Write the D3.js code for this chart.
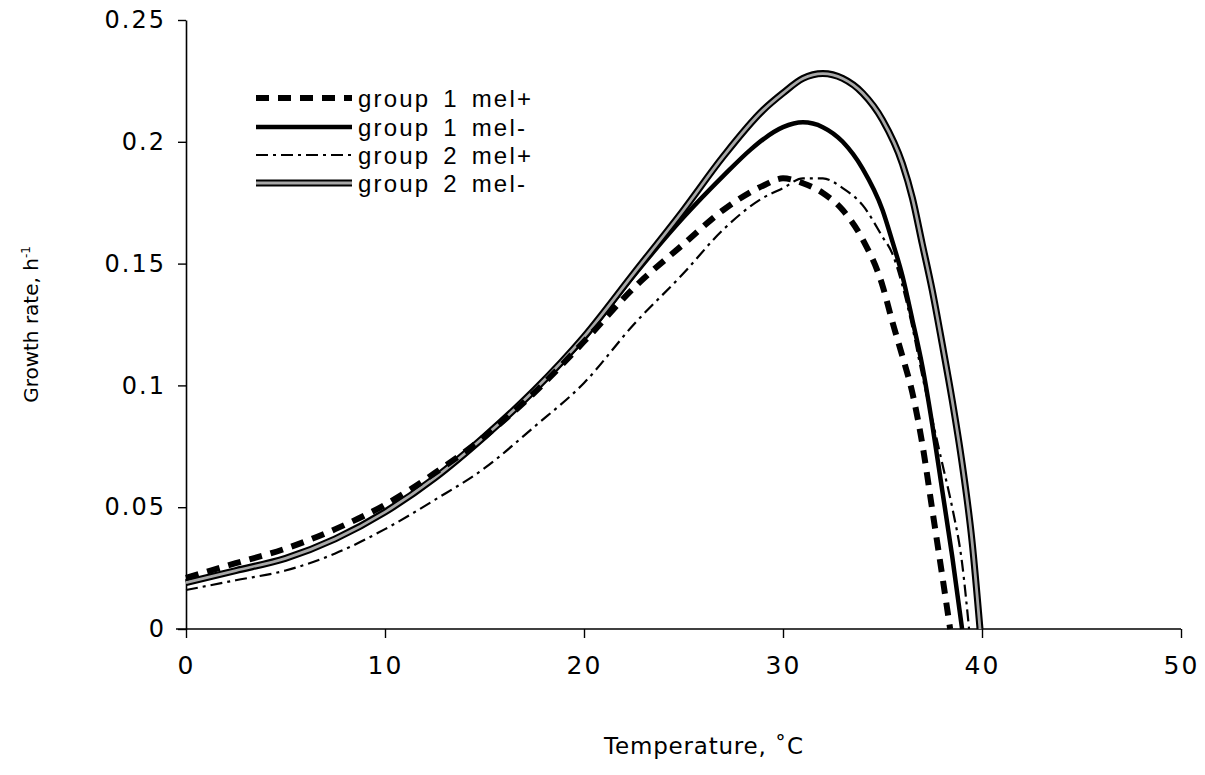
<!DOCTYPE html>
<html>
<head>
<meta charset="utf-8">
<script src="https://cdn.jsdelivr.net/npm/d3@7"></script>
<style>
  html, body { margin: 0; padding: 0; background: #fff; }
  svg { display: block; }
</style>
</head>
<body>
<svg id="chart" width="1205" height="775"></svg>
<script>
// ---- data ----
const seriesNames = ["group 1 mel+", "group 1 mel-", "group 2 mel+", "group 2 mel-"];

const g1PlusT = [0, 2.5, 5, 7.5, 10, 12.5, 15, 17.5, 20, 22.5, 25, 27, 29, 30, 31, 32, 33, 34, 35, 35.5, 36, 36.5, 37, 37.5, 38, 38.4];
const g1PlusV = [0.021, 0.027, 0.033, 0.041, 0.051, 0.064, 0.079, 0.097, 0.118, 0.140, 0.158, 0.172, 0.182, 0.185, 0.183, 0.179, 0.172, 0.160, 0.141, 0.126, 0.112, 0.097, 0.076, 0.049, 0.022, 0];

const g1MinusT = [0, 2.5, 5, 7.5, 10, 12.5, 15, 17.5, 20, 22.5, 25, 27, 28.4, 29, 30, 31, 32, 33, 34, 35, 35.5, 36, 36.5, 37, 37.5, 38, 38.5, 39];
const g1MinusV = [0.019, 0.024, 0.029, 0.037, 0.048, 0.062, 0.079, 0.098, 0.119, 0.145, 0.169, 0.186, 0.197, 0.201, 0.206, 0.208, 0.206, 0.200, 0.189, 0.172, 0.159, 0.145, 0.127, 0.108, 0.084, 0.057, 0.030, 0];

const g2PlusT = [0, 2.5, 5, 7.5, 10, 12.5, 15, 17.5, 20, 22.5, 25, 27, 29, 30, 31, 32, 33, 34, 35, 35.5, 36, 36.5, 37, 37.5, 38, 38.5, 39, 39.35];
const g2PlusV = [0.016, 0.020, 0.024, 0.031, 0.041, 0.053, 0.066, 0.083, 0.101, 0.125, 0.146, 0.164, 0.177, 0.181, 0.185, 0.185, 0.181, 0.174, 0.161, 0.154, 0.141, 0.124, 0.104, 0.086, 0.068, 0.050, 0.027, 0];

const g2MinusT = [0, 2.5, 5, 7.5, 10, 12.5, 15, 17.5, 20, 22.5, 25, 27, 29, 30, 31, 32, 33, 34, 35, 36, 36.5, 37, 37.5, 38, 38.5, 39, 39.5, 39.9];
const g2MinusV = [0.019, 0.024, 0.029, 0.037, 0.048, 0.062, 0.079, 0.098, 0.120, 0.146, 0.172, 0.194, 0.213, 0.220, 0.226, 0.228, 0.226, 0.220, 0.209, 0.191, 0.177, 0.158, 0.139, 0.117, 0.094, 0.068, 0.036, 0];

const xTicks = [0, 10, 20, 30, 40, 50];
const yTicks = [0, 0.05, 0.1, 0.15, 0.2, 0.25];
const yTickLabels = ["0", "0.05", "0.1", "0.15", "0.2", "0.25"];

// ---- layout ----
const svg = d3.select("#chart");
const mLeft = 186, mRight = 1181, mTop = 20, mBottom = 629;

const x = d3.scaleLinear().domain([0, 50]).range([mLeft, mRight]);
const y = d3.scaleLinear().domain([0, 0.25]).range([mBottom, mTop]);

const zip = (t, v) => t.map((d, i) => [d, v[i]]);
const line = d3.line().x(d => x(d[0])).y(d => y(d[1])).curve(d3.curveMonotoneX);

const styles = {
  "group 1 mel+": [{stroke: "#000", width: 6, dash: "13,9"}],
  "group 1 mel-": [{stroke: "#000", width: 4.5, dash: null}],
  "group 2 mel+": [{stroke: "#000", width: 2.2, dash: "12,5,3,5"}],
  "group 2 mel-": [{stroke: "#000", width: 7, dash: null}, {stroke: "#a8a8a8", width: 2.8, dash: null}]
};

const seriesData = {
  "group 1 mel+": zip(g1PlusT, g1PlusV),
  "group 1 mel-": zip(g1MinusT, g1MinusV),
  "group 2 mel+": zip(g2PlusT, g2PlusV),
  "group 2 mel-": zip(g2MinusT, g2MinusV)
};

// ---- axes ----
const fontTick = "'DejaVu Sans', sans-serif";

const xAxis = d3.axisBottom(x).tickValues(xTicks).tickSize(9).tickPadding(18).tickSizeOuter(0);
const gx = svg.append("g").attr("transform", `translate(0,${mBottom})`).call(xAxis);
gx.select(".domain").attr("stroke", "#000").attr("stroke-width", 1.6).attr("d", `M${mLeft - 10},0H${mRight}`);
gx.selectAll(".tick line").attr("stroke", "#000").attr("stroke-width", 1.4);
gx.selectAll(".tick text").attr("fill", "#000").style("font-family", fontTick).style("font-size", "25px").style("letter-spacing", "2px");

const yAxis = d3.axisLeft(y).tickValues(yTicks).tickFormat((d, i) => yTickLabels[i]).tickSize(8).tickPadding(12).tickSizeOuter(0);
const gy = svg.append("g").attr("transform", `translate(${mLeft},0)`).call(yAxis);
gy.select(".domain").attr("stroke", "#000").attr("stroke-width", 1.6);
gy.selectAll(".tick line").attr("stroke", "#000").attr("stroke-width", 1.4);
gy.selectAll(".tick text").attr("fill", "#000").style("font-family", fontTick).style("font-size", "24px").style("letter-spacing", "2px");

// axis titles
svg.append("text")
  .attr("x", 704).attr("y", 754)
  .attr("text-anchor", "middle")
  .style("font-family", fontTick).style("font-size", "23px").style("letter-spacing", "0.8px")
  .text("Temperature, ˚C");

const yt = svg.append("text")
  .attr("transform", `translate(38,${(mTop + mBottom) / 2}) rotate(-90)`)
  .attr("text-anchor", "middle")
  .style("font-family", fontTick).style("font-size", "20px");
yt.append("tspan").text("Growth rate, h");
yt.append("tspan").attr("dy", -8).style("font-size", "12px").text("-1");

// ---- curves ----
const drawOrder = ["group 2 mel+", "group 1 mel-", "group 2 mel-", "group 1 mel+"];
drawOrder.forEach(name => {
  styles[name].forEach(s => {
    svg.append("path")
      .datum(seriesData[name])
      .attr("d", line)
      .attr("fill", "none")
      .attr("stroke", s.stroke)
      .attr("stroke-width", s.width)
      .attr("stroke-linecap", "butt")
      .attr("stroke-linejoin", "round")
      .attr("stroke-dasharray", s.dash);
  });
});

// ---- legend ----
const legendY = [98, 127, 155, 183];
const lg = svg.append("g");
seriesNames.forEach((name, i) => {
  styles[name].forEach(s => {
    lg.append("line")
      .attr("x1", 256).attr("x2", 352)
      .attr("y1", legendY[i]).attr("y2", legendY[i])
      .attr("stroke", s.stroke).attr("stroke-width", s.width)
      .attr("stroke-dasharray", s.dash);
  });
  lg.append("text")
    .attr("x", 358).attr("y", legendY[i]).attr("dy", "0.36em")
    .style("font-family", "'Liberation Sans', Arial, sans-serif")
    .style("font-size", "24px").style("letter-spacing", "2.2px").style("word-spacing", "4px")
    .text(name);
});
</script>
</body>
</html>
